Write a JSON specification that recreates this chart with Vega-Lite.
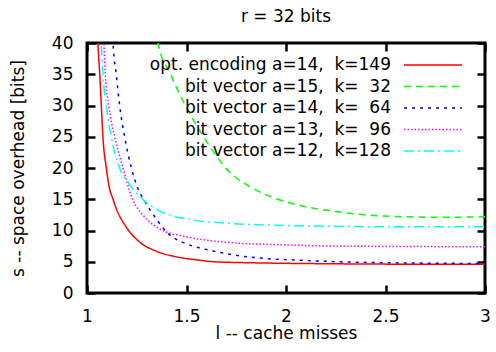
{
  "$schema": "https://vega.github.io/schema/vega-lite/v6.json",
  "width": 398,
  "height": 250,
  "autosize": {"type": "none"},
  "padding": {"left": 87, "top": 43, "right": 11, "bottom": 59},
  "background": "white",
  "title": {"text": "r = 32 bits", "font": "DejaVu Sans", "fontSize": 17, "fontWeight": "normal", "color": "black", "anchor": "middle", "frame": "group", "baseline": "alphabetic", "offset": -5},
  "config": {
    "view": {"stroke": "black", "strokeWidth": 3},
    "font": "DejaVu Sans"
  },
  "data": {
    "values": [
      {"series": "opt", "l": 1.048, "s": 46}, {"series": "opt", "l": 1.055, "s": 40}, {"series": "opt", "l": 1.064, "s": 35}, {"series": "opt", "l": 1.072, "s": 30}, {"series": "opt", "l": 1.08, "s": 25}, {"series": "opt", "l": 1.097, "s": 20}, {"series": "opt", "l": 1.112, "s": 16.9}, {"series": "opt", "l": 1.131, "s": 15.0}, {"series": "opt", "l": 1.146, "s": 13.6}, {"series": "opt", "l": 1.196, "s": 10.6}, {"series": "opt", "l": 1.263, "s": 8.2}, {"series": "opt", "l": 1.347, "s": 6.7}, {"series": "opt", "l": 1.447, "s": 5.8}, {"series": "opt", "l": 1.55, "s": 5.3}, {"series": "opt", "l": 1.64, "s": 5.0}, {"series": "opt", "l": 1.8, "s": 4.85}, {"series": "opt", "l": 2.0, "s": 4.75}, {"series": "opt", "l": 2.25, "s": 4.67}, {"series": "opt", "l": 2.5, "s": 4.62}, {"series": "opt", "l": 2.75, "s": 4.6}, {"series": "opt", "l": 3.0, "s": 4.58},
      {"series": "bv15", "l": 1.34, "s": 44}, {"series": "bv15", "l": 1.357, "s": 40}, {"series": "bv15", "l": 1.42, "s": 35.0}, {"series": "bv15", "l": 1.497, "s": 29.8}, {"series": "bv15", "l": 1.57, "s": 25.8}, {"series": "bv15", "l": 1.64, "s": 22.4}, {"series": "bv15", "l": 1.7, "s": 19.9}, {"series": "bv15", "l": 1.75, "s": 18.4}, {"series": "bv15", "l": 1.82, "s": 17.0}, {"series": "bv15", "l": 1.9, "s": 15.7}, {"series": "bv15", "l": 1.99, "s": 14.7}, {"series": "bv15", "l": 2.07, "s": 14.0}, {"series": "bv15", "l": 2.15, "s": 13.5}, {"series": "bv15", "l": 2.26, "s": 13.0}, {"series": "bv15", "l": 2.36, "s": 12.6}, {"series": "bv15", "l": 2.44, "s": 12.4}, {"series": "bv15", "l": 2.6, "s": 12.2}, {"series": "bv15", "l": 2.77, "s": 12.1}, {"series": "bv15", "l": 3.0, "s": 12.2},
      {"series": "bv14", "l": 1.124, "s": 46}, {"series": "bv14", "l": 1.131, "s": 40}, {"series": "bv14", "l": 1.147, "s": 35}, {"series": "bv14", "l": 1.164, "s": 30}, {"series": "bv14", "l": 1.189, "s": 25}, {"series": "bv14", "l": 1.223, "s": 20}, {"series": "bv14", "l": 1.255, "s": 16.8}, {"series": "bv14", "l": 1.296, "s": 14.4}, {"series": "bv14", "l": 1.347, "s": 11.9}, {"series": "bv14", "l": 1.405, "s": 9.6}, {"series": "bv14", "l": 1.497, "s": 7.9}, {"series": "bv14", "l": 1.568, "s": 7.2}, {"series": "bv14", "l": 1.623, "s": 6.8}, {"series": "bv14", "l": 1.735, "s": 6.1}, {"series": "bv14", "l": 1.903, "s": 5.5}, {"series": "bv14", "l": 2.07, "s": 5.25}, {"series": "bv14", "l": 2.26, "s": 5.0}, {"series": "bv14", "l": 2.5, "s": 4.85}, {"series": "bv14", "l": 3.0, "s": 4.72},
      {"series": "bv13", "l": 1.079, "s": 46}, {"series": "bv13", "l": 1.085, "s": 40}, {"series": "bv13", "l": 1.092, "s": 35}, {"series": "bv13", "l": 1.109, "s": 30}, {"series": "bv13", "l": 1.139, "s": 25}, {"series": "bv13", "l": 1.181, "s": 20}, {"series": "bv13", "l": 1.225, "s": 15.3}, {"series": "bv13", "l": 1.28, "s": 12.5}, {"series": "bv13", "l": 1.363, "s": 10.3}, {"series": "bv13", "l": 1.497, "s": 9.0}, {"series": "bv13", "l": 1.568, "s": 8.6}, {"series": "bv13", "l": 1.64, "s": 8.3}, {"series": "bv13", "l": 1.8, "s": 7.9}, {"series": "bv13", "l": 2.0, "s": 7.7}, {"series": "bv13", "l": 2.26, "s": 7.5}, {"series": "bv13", "l": 3.0, "s": 7.4},
      {"series": "bv12", "l": 1.066, "s": 46}, {"series": "bv12", "l": 1.072, "s": 40}, {"series": "bv12", "l": 1.08, "s": 35}, {"series": "bv12", "l": 1.097, "s": 30}, {"series": "bv12", "l": 1.122, "s": 25}, {"series": "bv12", "l": 1.164, "s": 20}, {"series": "bv12", "l": 1.204, "s": 17.8}, {"series": "bv12", "l": 1.273, "s": 15.2}, {"series": "bv12", "l": 1.355, "s": 13.3}, {"series": "bv12", "l": 1.43, "s": 12.3}, {"series": "bv12", "l": 1.497, "s": 11.9}, {"series": "bv12", "l": 1.568, "s": 11.5}, {"series": "bv12", "l": 1.64, "s": 11.3}, {"series": "bv12", "l": 1.8, "s": 11.0}, {"series": "bv12", "l": 2.0, "s": 10.8}, {"series": "bv12", "l": 2.26, "s": 10.65}, {"series": "bv12", "l": 2.6, "s": 10.6}, {"series": "bv12", "l": 3.0, "s": 10.6}
    ]
  },
  "layer": [
    {
      "mark": {"type": "line", "clip": true, "strokeWidth": 1.5, "interpolate": "monotone"},
      "encoding": {
        "x": {"field": "l", "type": "quantitative", "scale": {"domain": [1, 3], "nice": false, "zero": false},
          "axis": {"orient": "bottom", "values": [1, 1.5, 2, 2.5, 3], "format": "~g", "grid": false, "domain": false, "tickSize": -8, "tickWidth": 2.5, "tickColor": "black", "labelFontSize": 17, "labelColor": "black", "labelPadding": 23, "labelFlush": false, "labelOverlap": false, "title": "l -- cache misses", "titleFontSize": 17, "titleFontWeight": "normal", "titleColor": "black", "titlePadding": 1}},
        "y": {"field": "s", "type": "quantitative", "scale": {"domain": [0, 40], "nice": false, "zero": false},
          "axis": {"orient": "left", "values": [0, 5, 10, 15, 20, 25, 30, 35, 40], "grid": false, "domain": false, "tickSize": -8, "tickWidth": 2.5, "tickColor": "black", "labelFontSize": 17, "labelColor": "black", "labelPadding": 22, "labelFlush": false, "labelOverlap": false, "title": "s -- space overhead [bits]", "titleFontSize": 17, "titleFontWeight": "normal", "titleColor": "black", "titlePadding": 24}},
        "color": {"field": "series", "type": "nominal",
          "scale": {"domain": ["opt", "bv15", "bv14", "bv13", "bv12"], "range": ["#ff0000", "#00ff00", "#0000ff", "#ff00ff", "#00ffff"]},
          "legend": {"orient": "none", "legendX": 335, "legendY": 11, "title": null, "padding": 0, "symbolType": "M-2.9,0H2.9", "symbolSize": 400, "symbolStrokeWidth": 1.5, "rowPadding": 2.5, "labelAlign": "right", "labelOffset": -53, "labelFontSize": 17, "labelColor": "black", "labelLimit": 400,
            "labelExpr": "{'opt': 'opt. encoding a=14,\u00a0\u00a0k=149', 'bv15': 'bit vector a=15,\u00a0\u00a0k=\u00a0\u00a032', 'bv14': 'bit vector a=14,\u00a0\u00a0k=\u00a0\u00a064', 'bv13': 'bit vector a=13,\u00a0\u00a0k=\u00a0\u00a096', 'bv12': 'bit vector a=12,\u00a0\u00a0k=128'}[datum.label]"}},
        "strokeDash": {"field": "series", "type": "nominal",
          "scale": {"domain": ["opt", "bv15", "bv14", "bv13", "bv12"], "range": [[1, 0], [7, 5], [3, 5], [1.5, 2], [10, 4, 2, 4]]},
          "legend": {"orient": "none", "legendX": 335, "legendY": 11, "title": null, "padding": 0, "symbolType": "M-2.9,0H2.9", "symbolSize": 400, "symbolStrokeWidth": 1.5, "rowPadding": 2.5, "labelAlign": "right", "labelOffset": -53, "labelFontSize": 17, "labelColor": "black", "labelLimit": 400,
            "labelExpr": "{'opt': 'opt. encoding a=14,\u00a0\u00a0k=149', 'bv15': 'bit vector a=15,\u00a0\u00a0k=\u00a0\u00a032', 'bv14': 'bit vector a=14,\u00a0\u00a0k=\u00a0\u00a064', 'bv13': 'bit vector a=13,\u00a0\u00a0k=\u00a0\u00a096', 'bv12': 'bit vector a=12,\u00a0\u00a0k=128'}[datum.label]"}}
      }
    },
    {
      "mark": {"type": "line", "opacity": 0, "clip": true},
      "encoding": {
        "x": {"field": "l", "type": "quantitative",
          "axis": {"orient": "top", "values": [1, 1.5, 2, 2.5, 3], "grid": false, "domain": false, "labels": false, "tickSize": -8, "tickWidth": 2.5, "tickColor": "black", "title": null}},
        "y": {"field": "s", "type": "quantitative",
          "axis": {"orient": "right", "values": [0, 5, 10, 15, 20, 25, 30, 35, 40], "grid": false, "domain": false, "labels": false, "tickSize": -8, "tickWidth": 2.5, "tickColor": "black", "title": null}},
        "detail": {"field": "series", "type": "nominal"}
      }
    }
  ],
  "resolve": {"axis": {"x": "independent", "y": "independent"}}
}
